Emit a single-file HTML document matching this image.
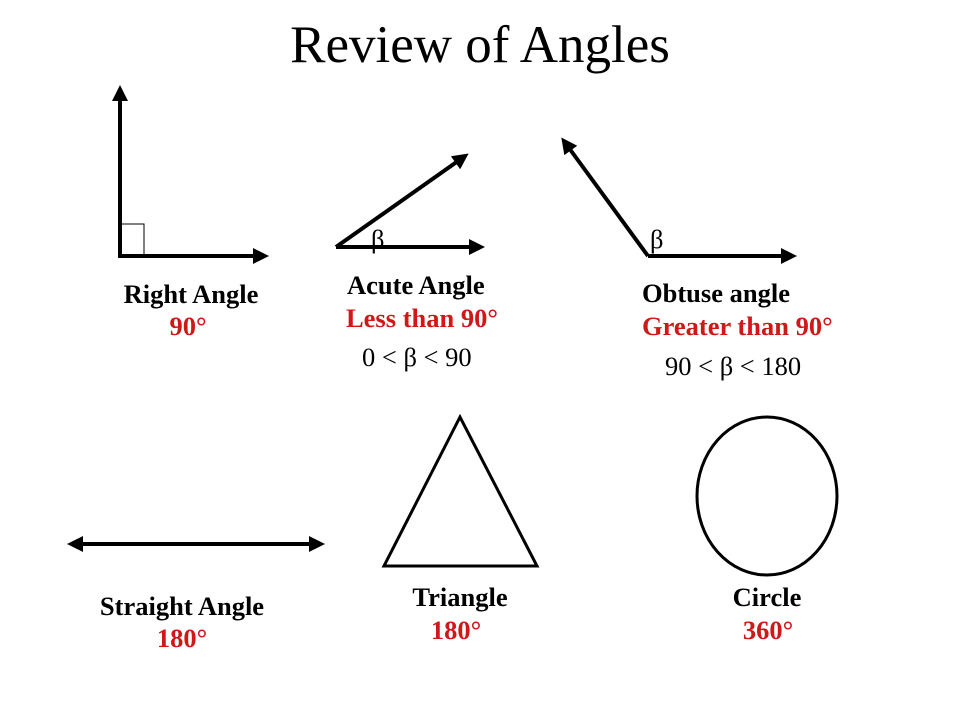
<!DOCTYPE html>
<html><head><meta charset="utf-8"><style>
body{margin:0;background:#fff}
svg text{font-family:"Liberation Serif",serif}
.b{font-weight:bold;font-size:26.5px}
.r{fill:#d01818}
.n{font-size:26.5px}
</style></head><body>
<svg width="960" height="720" viewBox="0 0 960 720" xmlns="http://www.w3.org/2000/svg">
<defs>
<marker id="h" viewBox="0 0 16 16" markerWidth="17" markerHeight="16" refX="3" refY="8" orient="auto-start-reverse" markerUnits="userSpaceOnUse"><path d="M0,0 L16,8 L0,16z" fill="#000"/></marker></defs>
<text x="480" y="62" text-anchor="middle" font-size="53">Review of Angles</text>
<g stroke="#000" stroke-width="4" fill="none">
<polyline points="120,98 120,256 256,256" marker-start="url(#h)" marker-end="url(#h)"/>
<line x1="336" y1="247" x2="472" y2="247" marker-end="url(#h)"/>
<line x1="336" y1="247" x2="458" y2="161" marker-end="url(#h)"/>
<line x1="648" y1="256" x2="784" y2="256" marker-end="url(#h)"/>
<line x1="648" y1="256" x2="569" y2="148" marker-end="url(#h)"/>
<line x1="80" y1="544" x2="312" y2="544" marker-start="url(#h)" marker-end="url(#h)"/>
<polygon points="460,417 384,566 537,566" stroke-width="3"/>
<ellipse cx="767" cy="496" rx="70" ry="79" stroke-width="3"/>
</g>
<rect x="120" y="224" width="24" height="32" fill="none" stroke="#000" stroke-width="1"/>
<text x="371" y="248" class="n">β</text>
<text x="650" y="248" class="n">β</text>
<text x="191" y="303" text-anchor="middle" class="b">Right Angle</text>
<text x="188" y="335" text-anchor="middle" class="b r">90°</text>
<text x="347" y="294" class="b">Acute Angle</text>
<text x="346" y="327" class="b r">Less than 90°</text>
<text x="362" y="366" class="n">0 &lt; β &lt; 90</text>
<text x="642" y="302" class="b">Obtuse angle</text>
<text x="642" y="335" class="b r">Greater than 90°</text>
<text x="665" y="375" class="n">90 &lt; β &lt; 180</text>
<text x="182" y="615" text-anchor="middle" class="b">Straight Angle</text>
<text x="182" y="647" text-anchor="middle" class="b r">180°</text>
<text x="460" y="606" text-anchor="middle" class="b">Triangle</text>
<text x="456" y="639" text-anchor="middle" class="b r">180°</text>
<text x="767" y="606" text-anchor="middle" class="b">Circle</text>
<text x="768" y="639" text-anchor="middle" class="b r">360°</text>
</svg>
</body></html>
